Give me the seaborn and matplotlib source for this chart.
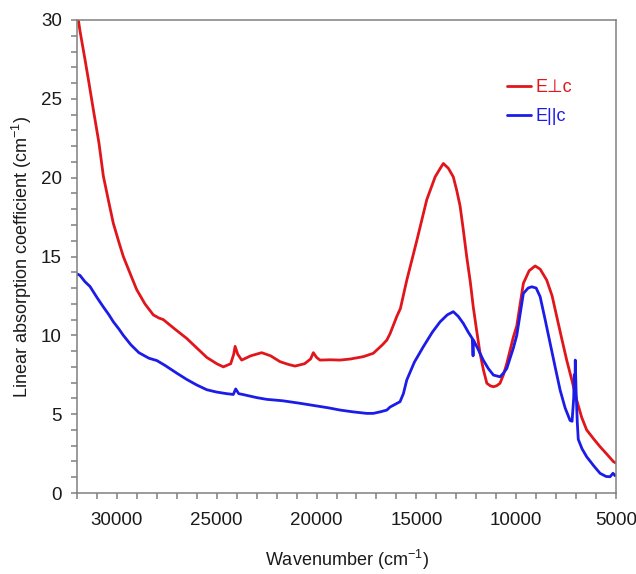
import matplotlib
matplotlib.use("Agg")
import matplotlib.pyplot as plt
import seaborn as sns
import pandas as pd
from matplotlib.ticker import MultipleLocator

# E perpendicular c (red)
red_w = [32000, 31850, 31600, 31400, 31180, 30900, 30680, 30400, 30180, 29900, 29680, 29300,
         29010, 28600, 28180, 27900, 27680, 27100, 26500, 26000, 25500, 25000, 24670, 24300,
         24150, 24080, 23950, 23750, 23300, 22750, 22300, 21830, 21400, 21080, 20600, 20300,
         20160, 20000, 19830, 19300, 18820, 18300, 17650, 17160, 16980, 16700, 16480, 16320,
         15980, 15800, 15480, 14980, 14480, 14060, 13800, 13650, 13400, 13150, 12980, 12810,
         12650, 12480, 12300, 12150, 11980, 11810, 11640, 11470, 11300, 11140, 10980, 10810,
         10640, 10470, 10140, 9970, 9800, 9640, 9350, 9050, 8800, 8470, 8200, 7970, 7720, 7470,
         7200, 6970, 6720, 6470, 6100, 5800, 5450, 5130, 5000]
red_v = [30.6, 29.3, 27.5, 26.0, 24.3, 22.2, 20.1, 18.4, 17.1, 15.9, 15.0, 13.8,
         12.9, 12.0, 11.3, 11.1, 11.0, 10.4, 9.8, 9.2, 8.6, 8.2, 8.0, 8.2,
         8.8, 9.3, 8.8, 8.43, 8.7, 8.9, 8.7, 8.33, 8.15, 8.05, 8.2, 8.5,
         8.9, 8.6, 8.43, 8.45, 8.43, 8.5, 8.65, 8.86, 9.07, 9.4, 9.7, 10.1,
         11.2, 11.7, 13.5, 16.0, 18.6, 20.05, 20.6, 20.9, 20.6, 20.05, 19.2, 18.2,
         16.7, 15.0, 13.4, 11.8, 10.3, 8.86, 7.8, 6.96, 6.8, 6.74, 6.8, 6.96,
         7.5, 8.22, 9.9, 10.6, 12.0, 13.3, 14.1, 14.4, 14.2, 13.5, 12.5, 11.2, 9.8, 8.43,
         7.1, 5.9, 4.8, 4.0, 3.4, 2.94, 2.45, 1.99, 1.9]

# E parallel c (blue)
blue_w = [32000, 31850, 31600, 31350, 31000, 30680, 30400, 30180, 29900, 29680, 29300, 28900,
          28400, 28000, 27600, 27000, 26500, 26000, 25500, 25000, 24500, 24170, 24050, 23900,
          23700, 23000, 22500, 21700, 20830, 19990, 19400, 18820, 18200, 17490, 17160, 16800,
          16480, 16320, 15820, 15650, 15480, 15100, 14650, 14200, 13810, 13450, 13150, 12900,
          12650, 12400, 12200, 12160, 12140, 11900, 11650, 11400, 11140, 10810, 10640, 10470,
          10140, 9970, 9640, 9400, 9220, 9000, 8800, 8550, 8300, 8050, 7800, 7550, 7300, 7200,
          7120, 7090, 7060, 7040, 7000, 6940, 6890, 6700, 6470, 6100, 5800, 5500, 5300, 5150,
          5050, 5000]
blue_v = [13.9, 13.8, 13.4, 13.1, 12.4, 11.8, 11.3, 10.86, 10.4, 10.0, 9.4, 8.9,
          8.55, 8.4, 8.1, 7.6, 7.2, 6.85, 6.55, 6.4, 6.3, 6.25, 6.6, 6.3,
          6.25, 6.05, 5.94, 5.85, 5.69, 5.52, 5.4, 5.26, 5.15, 5.05, 5.05, 5.15,
          5.26, 5.45, 5.79, 6.3, 7.17, 8.3, 9.28, 10.2, 10.86, 11.3, 11.5, 11.2,
          10.76, 10.2, 9.8, 8.7, 9.7, 9.1, 8.43, 7.9, 7.48, 7.37, 7.6, 7.9,
          9.2, 10.0, 12.66, 13.0, 13.08, 13.0, 12.45, 11.0, 9.5, 8.0, 6.53, 5.4, 4.6, 4.55,
          6.0, 7.5, 6.0, 8.43, 6.5, 4.5, 3.4, 2.8, 2.3, 1.7, 1.25, 1.05, 1.03, 1.25,
          1.1, 1.15]

series_names = ["E\u22a5c", "E||c"]
colors = ["#e0161c", "#1c1ce8"]

df = pd.concat([
    pd.DataFrame({"w": red_w, "v": red_v, "s": series_names[0]}),
    pd.DataFrame({"w": blue_w, "v": blue_v, "s": series_names[1]}),
], ignore_index=True)

sns.set_style("ticks")
plt.rcParams["font.family"] = ["Liberation Sans", "DejaVu Sans"]
plt.rcParams["mathtext.default"] = "regular"

fig = plt.figure(figsize=(6.36, 5.74), dpi=100)
ax = fig.add_axes([77 / 636, 1 - 493 / 574, (616 - 77) / 636, (493 - 20) / 574])

sns.lineplot(data=df, x="w", y="v", hue="s", palette=dict(zip(series_names, colors)),
             sort=False, estimator=None, lw=2.0, ax=ax)

ax.set_xlim(32000, 5000)
ax.set_ylim(0, 30)
ax.xaxis.set_major_locator(MultipleLocator(5000))
ax.xaxis.set_minor_locator(MultipleLocator(1000))
ax.yaxis.set_major_locator(MultipleLocator(5))
ax.yaxis.set_minor_locator(MultipleLocator(1))

grey = "#808080"
for sp in ax.spines.values():
    sp.set_color(grey)
    sp.set_linewidth(1.1)
    sp.set_visible(True)
ax.tick_params(which="both", direction="out", color=grey, labelsize=13.5, labelcolor="#1a1a1a")
ax.tick_params(axis="x", pad=9)
ax.tick_params(axis="y", pad=6.5)
ax.tick_params(which="major", length=4.5, width=1.1)
ax.tick_params(which="minor", length=4.5, width=1.1)

ax.set_xlabel("Wavenumber (cm$^{-1}$)", fontsize=13, color="#1a1a1a", labelpad=14)
ax.set_ylabel("Linear absorption coefficient (cm$^{-1}$)", fontsize=13, color="#1a1a1a", labelpad=5)

leg = ax.legend(frameon=False, loc="upper left", bbox_to_anchor=(0.798, 0.875),
                borderaxespad=0, borderpad=0,
                handlelength=1.35, handletextpad=0.2, labelspacing=0.65, fontsize=13,
                labelcolor="linecolor")
leg.set_title(None)

fig.savefig("out.png", dpi=100)
